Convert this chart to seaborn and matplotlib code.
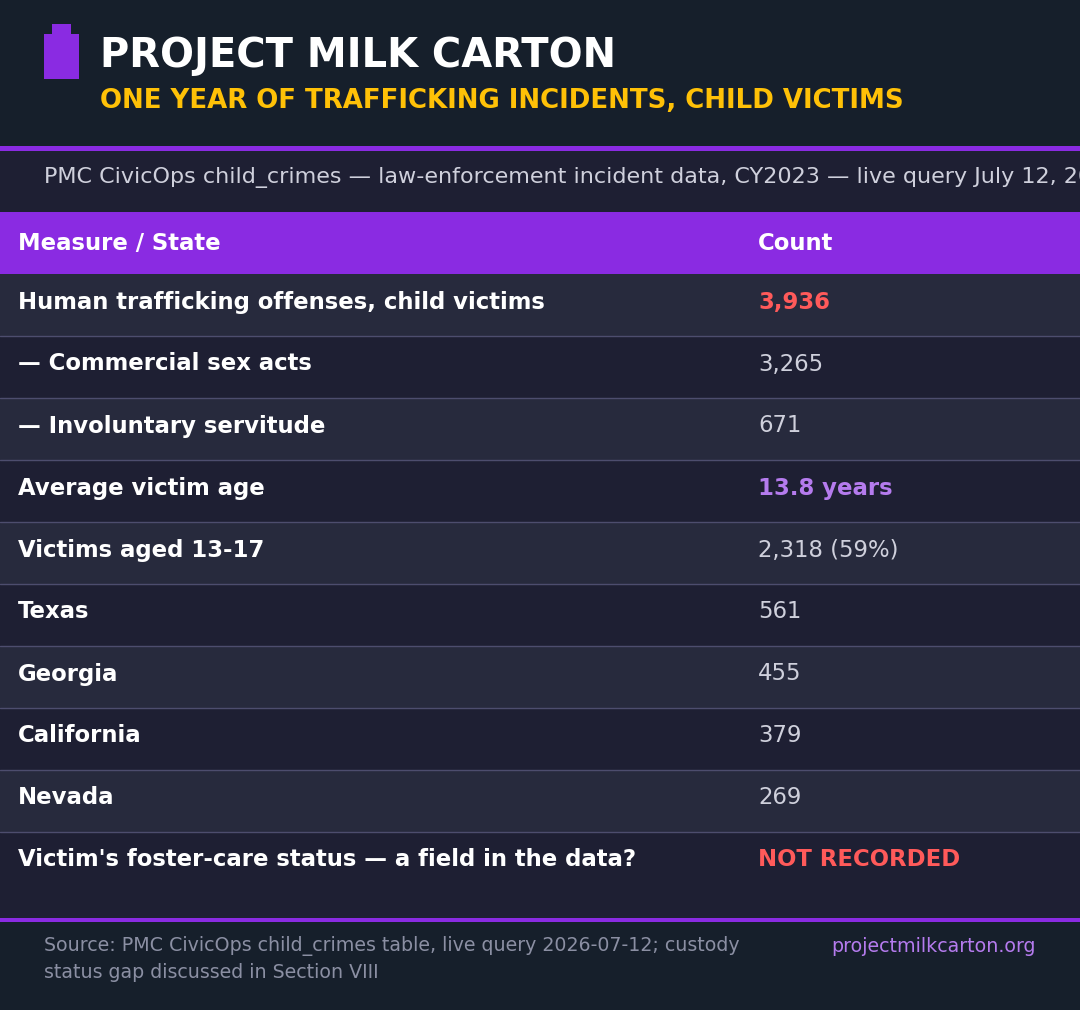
import matplotlib
matplotlib.use("Agg")
import matplotlib.pyplot as plt
from matplotlib.patches import Rectangle
import seaborn as sns

# Table content
labels = [
    "Human trafficking offenses, child victims",
    "— Commercial sex acts",
    "— Involuntary servitude",
    "Average victim age",
    "Victims aged 13-17",
    "Texas",
    "Georgia",
    "California",
    "Nevada",
    "Victim's foster-care status — a field in the data?",
]
values = ["3,936", "3,265", "671", "13.8 years", "2,318 (59%)",
          "561", "455", "379", "269", "NOT RECORDED"]
highlight = ["red", None, None, "purple", None, None, None, None, None, "red"]

title = "PROJECT MILK CARTON"
subtitle = "ONE YEAR OF TRAFFICKING INCIDENTS, CHILD VICTIMS"
caption = "PMC CivicOps child_crimes — law-enforcement incident data, CY2023 — live query July 12, 2026"
col_headers = ["Measure / State", "Count"]
source_lines = ["Source: PMC CivicOps child_crimes table, live query 2026-07-12; custody",
                "status gap discussed in Section VIII"]
site = "projectmilkcarton.org"

# Colours
BG_DARK = "#161f2b"
BAND = "#1e1f33"
ROW_ALT = "#272a3d"
PURPLE = "#8a2be2"
LIGHT_PURPLE = "#b57bee"
YELLOW = "#ffc107"
RED = "#ff5a5a"
GREY = "#cfd0dc"
FOOT_GREY = "#8b8fa3"
SEP = "#4d4d6e"
colour_map = {"red": RED, "purple": LIGHT_PURPLE, None: GREY}

sns.set_style("dark")
plt.rcParams["font.family"] = ["DejaVu Sans"]

W, H = 1080, 1010
fig = plt.figure(figsize=(W / 100, H / 100), dpi=100, facecolor=BG_DARK)
ax = fig.add_axes([0, 0, 1, 1])
ax.set_xlim(0, W)
ax.set_ylim(H, 0)
ax.axis("off")


def rect(x, y, w, h, c):
    ax.add_patch(Rectangle((x, y), w, h, facecolor=c, edgecolor="none", zorder=1))


# header
rect(0, 0, W, 146, BG_DARK)
rect(44, 34, 35, 45, PURPLE)
rect(52, 24, 19, 11, PURPLE)
ax.text(100, 56, title, color="white", fontsize=28.8, fontweight="bold", va="center", zorder=3)
ax.text(100, 101, subtitle, color=YELLOW, fontsize=18.7, fontweight="bold", va="center", zorder=3)
rect(0, 146, W, 5, PURPLE)

# caption band (runs off the right edge, as in the original)
rect(0, 151, W, 61, BAND)
ax.text(44, 178, caption, color=GREY, fontsize=16, va="center", zorder=3)

# column header
rect(0, 212, W, 62, PURPLE)
ax.text(18, 244, col_headers[0], color="white", fontsize=16.4, fontweight="bold", va="center", zorder=3)
ax.text(758, 244, col_headers[1], color="white", fontsize=16.4, fontweight="bold", va="center", zorder=3)

# rows
top = 274
row_h = 62
for i, (lab, val, hl) in enumerate(zip(labels, values, highlight)):
    y0 = top + i * row_h
    h = row_h if i < len(labels) - 1 else 918 - y0
    rect(0, y0, W, h, ROW_ALT if i % 2 == 0 else BAND)
    if i > 0:
        ax.plot([0, W], [y0, y0], color=SEP, lw=1, zorder=2)
    ax.text(18, y0 + 28, lab, color="white", fontsize=16.4, fontweight="bold", va="center", zorder=3)
    ax.text(758, y0 + 28, val, color=colour_map[hl], fontsize=16.4,
            fontweight="bold" if hl else "normal", va="center", zorder=3)

# footer
rect(0, 918, W, 4, PURPLE)
rect(0, 922, W, H - 922, BG_DARK)
for j, line in enumerate(source_lines):
    ax.text(44, 946 + j * 26, line, color=FOOT_GREY, fontsize=13.7, va="center", zorder=3)
ax.text(1036, 946, site, color=LIGHT_PURPLE, fontsize=13.7, va="center", ha="right", zorder=3)

fig.savefig("out.png", dpi=100, facecolor=BG_DARK)
